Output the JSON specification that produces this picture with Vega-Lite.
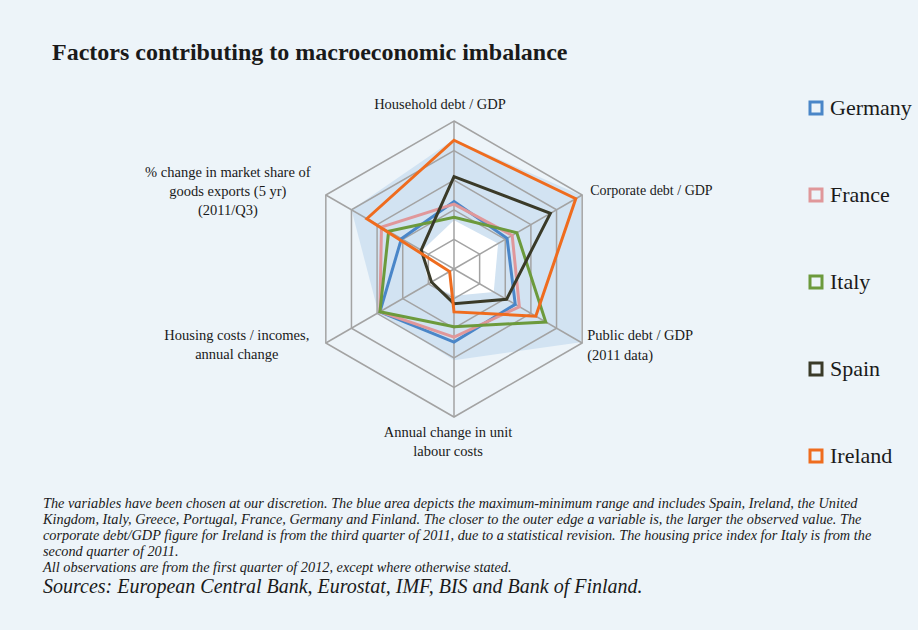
{
  "$schema": "https://vega.github.io/schema/vega-lite/v6.json",
  "background": "#edf4f9",
  "padding": {"left": 0, "right": 0, "top": 41, "bottom": 32},
  "title": {
    "text": [
      "The variables have been chosen at our discretion. The blue area depicts the maximum-minimum range and includes Spain, Ireland, the United",
      "Kingdom, Italy, Greece, Portugal, France, Germany and Finland. The closer to the outer edge a variable is, the larger the observed value. The",
      "corporate debt/GDP figure for Ireland is from the third quarter of 2011, due to a statistical revision. The housing price index for Italy is from the",
      "second quarter of 2011.",
      "All observations are from the first quarter of 2012, except where otherwise stated."
    ],
    "subtitle": "Sources: European Central Bank, Eurostat, IMF, BIS and Bank of Finland.",
    "orient": "bottom",
    "anchor": "start",
    "dx": 43,
    "offset": 17,
    "font": "Liberation Serif",
    "fontSize": 14.3,
    "fontStyle": "italic",
    "fontWeight": "normal",
    "color": "#1a1a1a",
    "lineHeight": 16,
    "subtitleFont": "Liberation Serif",
    "subtitleFontSize": 20,
    "subtitleFontStyle": "italic",
    "subtitleColor": "#1a1a1a",
    "subtitlePadding": 2
  },
  "datasets": {
    "countries": [
      {"country": "Germany", "k": 0, "v": 2.28}, {"country": "Germany", "k": 1, "v": 2.07}, {"country": "Germany", "k": 2, "v": 2.39},
      {"country": "Germany", "k": 3, "v": 2.47}, {"country": "Germany", "k": 4, "v": 2.89}, {"country": "Germany", "k": 5, "v": 2.05},
      {"country": "France", "k": 0, "v": 2.19}, {"country": "France", "k": 1, "v": 2.27}, {"country": "France", "k": 2, "v": 2.55},
      {"country": "France", "k": 3, "v": 2.3}, {"country": "France", "k": 4, "v": 2.89}, {"country": "France", "k": 5, "v": 2.83},
      {"country": "Italy", "k": 0, "v": 1.75}, {"country": "Italy", "k": 1, "v": 2.45}, {"country": "Italy", "k": 2, "v": 3.58},
      {"country": "Italy", "k": 3, "v": 1.95}, {"country": "Italy", "k": 4, "v": 2.89}, {"country": "Italy", "k": 5, "v": 2.55},
      {"country": "Spain", "k": 0, "v": 3.12}, {"country": "Spain", "k": 1, "v": 3.76}, {"country": "Spain", "k": 2, "v": 2.05},
      {"country": "Spain", "k": 3, "v": 1.17}, {"country": "Spain", "k": 4, "v": 0.88}, {"country": "Spain", "k": 5, "v": 1.28},
      {"country": "Ireland", "k": 0, "v": 4.35}, {"country": "Ireland", "k": 1, "v": 4.75}, {"country": "Ireland", "k": 2, "v": 3.19},
      {"country": "Ireland", "k": 3, "v": 1.45}, {"country": "Ireland", "k": 4, "v": 0.17}, {"country": "Ireland", "k": 5, "v": 3.4}
    ],
    "bounds": [
      {"bound": "max", "k": 0, "v": 4.38}, {"bound": "max", "k": 1, "v": 4.97}, {"bound": "max", "k": 2, "v": 4.95},
      {"bound": "max", "k": 3, "v": 3.08}, {"bound": "max", "k": 4, "v": 2.95}, {"bound": "max", "k": 5, "v": 4.0},
      {"bound": "min", "k": 0, "v": 1.65}, {"bound": "min", "k": 1, "v": 1.72}, {"bound": "min", "k": 2, "v": 1.55},
      {"bound": "min", "k": 3, "v": 0.9}, {"bound": "min", "k": 4, "v": 1.0}, {"bound": "min", "k": 5, "v": 1.25}
    ],
    "grid": [
      {"ring": 1, "k": 0}, {"ring": 1, "k": 1}, {"ring": 1, "k": 2}, {"ring": 1, "k": 3}, {"ring": 1, "k": 4}, {"ring": 1, "k": 5},
      {"ring": 2, "k": 0}, {"ring": 2, "k": 1}, {"ring": 2, "k": 2}, {"ring": 2, "k": 3}, {"ring": 2, "k": 4}, {"ring": 2, "k": 5},
      {"ring": 3, "k": 0}, {"ring": 3, "k": 1}, {"ring": 3, "k": 2}, {"ring": 3, "k": 3}, {"ring": 3, "k": 4}, {"ring": 3, "k": 5},
      {"ring": 4, "k": 0}, {"ring": 4, "k": 1}, {"ring": 4, "k": 2}, {"ring": 4, "k": 3}, {"ring": 4, "k": 4}, {"ring": 4, "k": 5},
      {"ring": 5, "k": 0}, {"ring": 5, "k": 1}, {"ring": 5, "k": 2}, {"ring": 5, "k": 3}, {"ring": 5, "k": 4}, {"ring": 5, "k": 5}
    ],
    "labels": [
      {"k": 0, "label": "Household debt / GDP"},
      {"k": 1, "label": "Corporate debt / GDP"},
      {"k": 2, "label": "Public debt / GDP\n(2011 data)"},
      {"k": 3, "label": "Annual change in unit\nlabour costs"},
      {"k": 4, "label": "Housing costs / incomes,\nannual change"},
      {"k": 5, "label": "% change in market share of\ngoods exports (5 yr)\n(2011/Q3)"}
    ]
  },
  "vconcat": [
    {
      "width": 918,
      "height": 410,
      "title": {
        "text": "Factors contributing to macroeconomic imbalance",
        "anchor": "start",
        "dx": 52,
        "offset": 5,
        "font": "Liberation Serif",
        "fontSize": 24,
        "fontWeight": "bold",
        "color": "#1a1a1a"
      },
      "encoding": {
        "x": {"field": "x", "type": "quantitative", "scale": {"domain": [-15.338, 15.676], "nice": false, "zero": false}, "axis": null},
        "y": {"field": "y", "type": "quantitative", "scale": {"domain": [-7.128, 6.723], "nice": false, "zero": false}, "axis": null}
      },
      "layer": [
        {
          "data": {"name": "bounds"},
          "transform": [
            {"filter": "datum.bound == 'max'"},
            {"calculate": "PI/2 - datum.k*PI/3", "as": "a"},
            {"calculate": "datum.v*cos(datum.a)", "as": "x"},
            {"calculate": "datum.v*sin(datum.a)", "as": "y"}
          ],
          "mark": {"type": "line", "interpolate": "linear-closed", "filled": true, "color": "#d2e3f2", "strokeWidth": 0},
          "encoding": {"order": {"field": "k", "type": "quantitative"}}
        },
        {
          "data": {"name": "bounds"},
          "transform": [
            {"filter": "datum.bound == 'min'"},
            {"calculate": "PI/2 - datum.k*PI/3", "as": "a"},
            {"calculate": "datum.v*cos(datum.a)", "as": "x"},
            {"calculate": "datum.v*sin(datum.a)", "as": "y"}
          ],
          "mark": {"type": "line", "interpolate": "linear-closed", "filled": true, "color": "#ffffff", "strokeWidth": 0},
          "encoding": {"order": {"field": "k", "type": "quantitative"}}
        },
        {
          "data": {"name": "grid"},
          "transform": [
            {"calculate": "PI/2 - datum.k*PI/3", "as": "a"},
            {"calculate": "datum.ring*cos(datum.a)", "as": "x"},
            {"calculate": "datum.ring*sin(datum.a)", "as": "y"}
          ],
          "mark": {"type": "line", "interpolate": "linear-closed", "color": "#a3a3a3", "strokeWidth": 1.5},
          "encoding": {"detail": {"field": "ring", "type": "nominal"}, "order": {"field": "k", "type": "quantitative"}}
        },
        {
          "data": {"name": "grid"},
          "transform": [
            {"filter": "datum.ring == 5"},
            {"calculate": "PI/2 - datum.k*PI/3", "as": "a"},
            {"calculate": "datum.ring*cos(datum.a)", "as": "x"},
            {"calculate": "datum.ring*sin(datum.a)", "as": "y"}
          ],
          "mark": {"type": "rule", "color": "#a3a3a3", "strokeWidth": 1.5},
          "encoding": {
            "x": {"datum": 0, "type": "quantitative"},
            "y": {"datum": 0, "type": "quantitative"},
            "x2": {"field": "x"},
            "y2": {"field": "y"}
          }
        },
        {
          "data": {"name": "countries"},
          "transform": [
            {"calculate": "PI/2 - datum.k*PI/3", "as": "a"},
            {"calculate": "datum.v*cos(datum.a)", "as": "x"},
            {"calculate": "datum.v*sin(datum.a)", "as": "y"}
          ],
          "mark": {"type": "line", "interpolate": "linear-closed", "strokeWidth": 3},
          "encoding": {
            "color": {
              "field": "country",
              "type": "nominal",
              "sort": ["Germany", "France", "Italy", "Spain", "Ireland"],
              "scale": {"domain": ["Germany", "France", "Italy", "Spain", "Ireland"], "range": ["#4a86c8", "#e0979a", "#6c9a3c", "#3a3a28", "#ef6c1e"]},
              "legend": {
                "orient": "none",
                "legendX": 805,
                "legendY": 27,
                "title": null,
                "symbolType": "square",
                "symbolSize": 144,
                "symbolStrokeWidth": 3,
                "labelFont": "Liberation Serif",
                "labelFontSize": 22,
                "labelColor": "#1a1a1a",
                "labelOffset": 3,
                "rowPadding": 63
              }
            },
            "order": {"field": "k", "type": "quantitative"}
          }
        },
        {
          "data": {"name": "labels"},
          "transform": [
            {"filter": "datum.k == 0"},
            {"calculate": "PI/2 - datum.k*PI/3", "as": "a"},
            {"calculate": "5*cos(datum.a)", "as": "x"},
            {"calculate": "5*sin(datum.a)", "as": "y"}
          ],
          "mark": {"type": "text", "align": "center", "baseline": "middle", "dx": -14, "dy": -16, "font": "Liberation Serif", "fontSize": 14.5, "lineHeight": 19, "lineBreak": "\n", "color": "#1a1a1a"},
          "encoding": {"text": {"field": "label", "type": "nominal"}}
        },
        {
          "data": {"name": "labels"},
          "transform": [
            {"filter": "datum.k == 1"},
            {"calculate": "PI/2 - datum.k*PI/3", "as": "a"},
            {"calculate": "5*cos(datum.a)", "as": "x"},
            {"calculate": "5*sin(datum.a)", "as": "y"}
          ],
          "mark": {"type": "text", "align": "left", "baseline": "middle", "dx": 8, "dy": -4, "font": "Liberation Serif", "fontSize": 14, "lineHeight": 19, "lineBreak": "\n", "color": "#1a1a1a"},
          "encoding": {"text": {"field": "label", "type": "nominal"}}
        },
        {
          "data": {"name": "labels"},
          "transform": [
            {"filter": "datum.k == 2"},
            {"calculate": "PI/2 - datum.k*PI/3", "as": "a"},
            {"calculate": "5*cos(datum.a)", "as": "x"},
            {"calculate": "5*sin(datum.a)", "as": "y"}
          ],
          "mark": {"type": "text", "align": "left", "baseline": "middle", "dx": 5, "dy": -7, "font": "Liberation Serif", "fontSize": 14.5, "lineHeight": 20, "lineBreak": "\n", "color": "#1a1a1a"},
          "encoding": {"text": {"field": "label", "type": "nominal"}}
        },
        {
          "data": {"name": "labels"},
          "transform": [
            {"filter": "datum.k == 3"},
            {"calculate": "PI/2 - datum.k*PI/3", "as": "a"},
            {"calculate": "5*cos(datum.a)", "as": "x"},
            {"calculate": "5*sin(datum.a)", "as": "y"}
          ],
          "mark": {"type": "text", "align": "center", "baseline": "middle", "dx": -6, "dy": 16, "font": "Liberation Serif", "fontSize": 14.5, "lineHeight": 18.5, "lineBreak": "\n", "color": "#1a1a1a"},
          "encoding": {"text": {"field": "label", "type": "nominal"}}
        },
        {
          "data": {"name": "labels"},
          "transform": [
            {"filter": "datum.k == 4"},
            {"calculate": "PI/2 - datum.k*PI/3", "as": "a"},
            {"calculate": "5*cos(datum.a)", "as": "x"},
            {"calculate": "5*sin(datum.a)", "as": "y"}
          ],
          "mark": {"type": "text", "align": "center", "baseline": "middle", "dx": -89, "dy": -7, "font": "Liberation Serif", "fontSize": 14.5, "lineHeight": 19, "lineBreak": "\n", "color": "#1a1a1a"},
          "encoding": {"text": {"field": "label", "type": "nominal"}}
        },
        {
          "data": {"name": "labels"},
          "transform": [
            {"filter": "datum.k == 5"},
            {"calculate": "PI/2 - datum.k*PI/3", "as": "a"},
            {"calculate": "5*cos(datum.a)", "as": "x"},
            {"calculate": "5*sin(datum.a)", "as": "y"}
          ],
          "mark": {"type": "text", "align": "center", "baseline": "middle", "dx": -98, "dy": -22, "font": "Liberation Serif", "fontSize": 14.5, "lineHeight": 19.2, "lineBreak": "\n", "color": "#1a1a1a"},
          "encoding": {"text": {"field": "label", "type": "nominal"}}
        }
      ]
    }
  ],
  "config": {"view": {"stroke": null}, "concat": {"spacing": 0}}
}
